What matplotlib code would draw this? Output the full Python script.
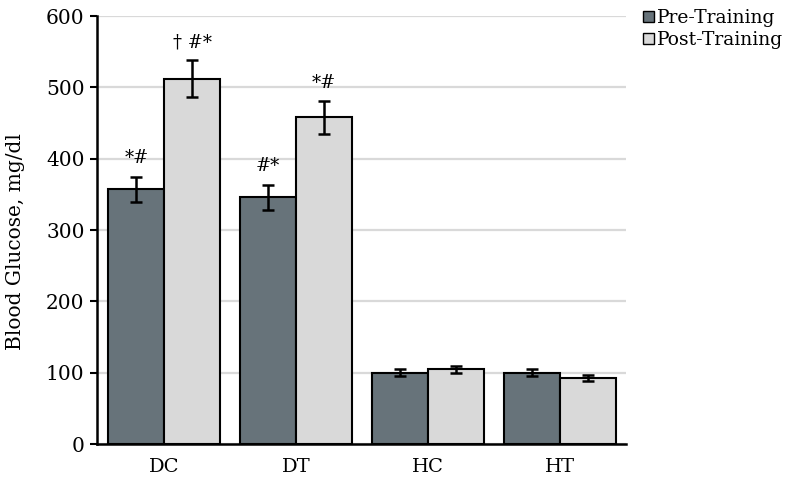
import matplotlib
matplotlib.use("Agg")
import matplotlib.pyplot as plt
import numpy as np
from matplotlib.patches import Patch

plt.rcParams['font.family'] = ['DejaVu Serif']

categories = ["DC", "DT", "HC", "HT"]
pre_values = [357, 346, 100, 100]
pre_errors = [18, 17.5, 5, 5]
post_values = [512, 458, 105, 93]
post_errors = [26, 23, 5, 4]
pre_labels = ["*#", "#*", "", ""]
post_labels = ["† #*", "*#", "", ""]
series_names = ["Pre-Training", "Post-Training"]
yticks = [0, 100, 200, 300, 400, 500, 600]

pre_color = "#67737a"
post_color = "#d9d9d9"

fig = plt.figure(figsize=(7.94, 4.83), dpi=100)
ax = fig.add_axes([97/794, 39/483, (626-97)/794, (444-16)/483])

x = np.arange(len(categories))
w = 0.424
ekw = dict(elinewidth=1.8, capthick=1.8, ecolor="black")
ax.bar(x - w/2, pre_values, w, yerr=pre_errors, color=pre_color, edgecolor="black",
       linewidth=1.5, capsize=4.5, error_kw=ekw, zorder=3)
ax.bar(x + w/2, post_values, w, yerr=post_errors, color=post_color, edgecolor="black",
       linewidth=1.5, capsize=4.5, error_kw=ekw, zorder=3)

for i in range(len(categories)):
    if pre_labels[i]:
        ax.text(x[i] - w/2, pre_values[i] + pre_errors[i] + 14, pre_labels[i],
                ha="center", va="bottom", fontsize=13)
    if post_labels[i]:
        ax.text(x[i] + w/2, post_values[i] + post_errors[i] + 12, post_labels[i],
                ha="center", va="bottom", fontsize=13)

ax.set_xlim(-0.51, 3.5)
ax.set_ylim(0, 600)
ax.set_yticks(yticks)
ax.set_xticks(x)
ax.set_xticklabels(categories, fontsize=14)
ax.tick_params(axis="y", labelsize=14.5, length=5, width=1.5, direction="out", pad=4)
ax.tick_params(axis="x", length=0, pad=10)
ax.yaxis.grid(True, color="#d9d9d9", linewidth=1.6, zorder=0)
ax.set_axisbelow(True)
for s in ["top", "right"]:
    ax.spines[s].set_visible(False)
ax.spines["left"].set_linewidth(1.8)
ax.spines["bottom"].set_linewidth(1.8)
ax.set_ylabel("Blood Glucose, mg/dl", fontsize=14.5, va="center")
ax.yaxis.set_label_coords(-0.155, 0.473)

handles = [Patch(facecolor=pre_color, edgecolor="black", linewidth=1),
           Patch(facecolor=post_color, edgecolor="black", linewidth=1)]
fig.legend(handles, series_names, loc="upper left", bbox_to_anchor=(634/794, 1.0),
           frameon=False, fontsize=13.5, handlelength=0.55, handleheight=0.55,
           handletextpad=0.2, labelspacing=0.2, borderaxespad=0.1)

fig.savefig("out.png", dpi=100)
